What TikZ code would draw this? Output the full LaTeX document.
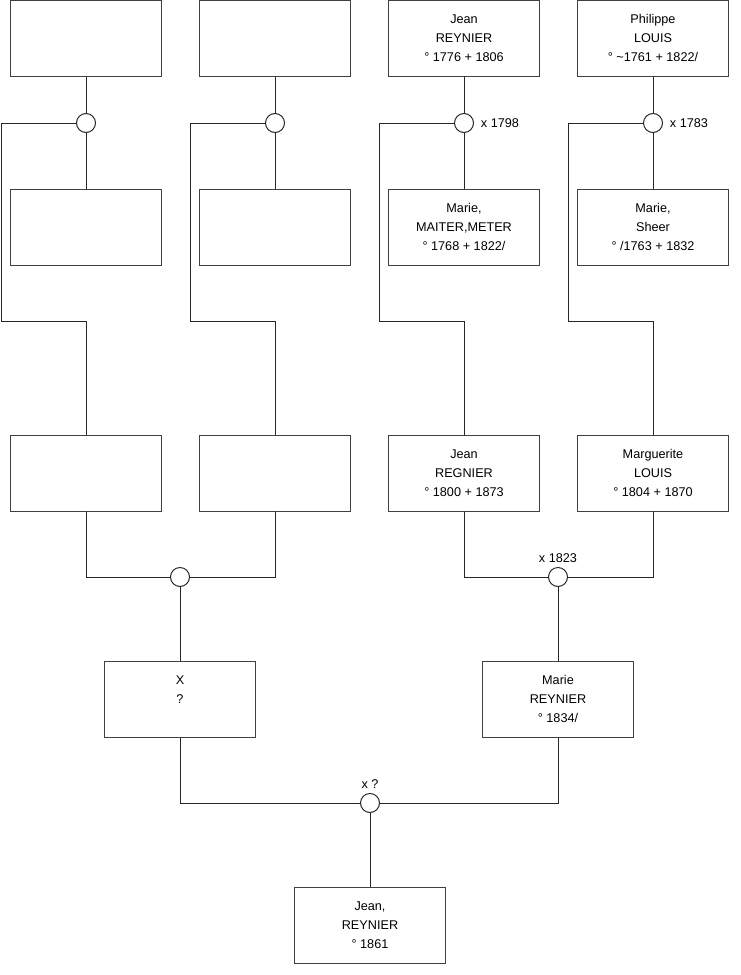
\documentclass[tikz,border=0pt]{standalone}
\usepackage{fontspec}
\setmainfont{Liberation Sans}
\usetikzlibrary{positioning}

\begin{document}
\begin{tikzpicture}[x=0.75pt,y=-0.75pt,
  person/.style={draw=black!75, line width=0.75pt, minimum width=113pt, minimum height=57pt,
    inner sep=0pt, align=center, font=\fontsize{9.5}{14.25}\selectfont},
  knot/.style={circle, draw=black!85, line width=0.75pt, minimum size=14.25pt, inner sep=0pt},
  link/.style={draw=black!85, line width=0.75pt},
  year/.style={inner sep=1pt, font=\fontsize{9.5}{11}\selectfont}]
  \useasboundingbox (0,0) rectangle (740,975);

  \node[person] (p1) at (86,38) {};
  \node[person] (p2) at (275,38) {};
  \node[person] (p3) at (464,38) {Jean\\REYNIER\\° 1776 + 1806};
  \node[person] (p4) at (653,38) {Philippe\\LOUIS\\° \textasciitilde1761 + 1822/};

  \node[knot] (c1) at (86,123) {};
  \node[knot] (c2) at (275,123) {};
  \node[knot] (c3) at (464,123) {};
  \node[knot] (c4) at (653,123) {};

  \node[person] (m1) at (86,227) {};
  \node[person] (m2) at (275,227) {};
  \node[person] (m3) at (464,227) {Marie,\\MAITER,METER\\° 1768 + 1822/};
  \node[person] (m4) at (653,227) {Marie,\\Sheer\\° /1763 + 1832};

  \coordinate (k1) at (1.5,321);
  \coordinate (k2) at (190,321);
  \coordinate (k3) at (379,321);
  \coordinate (k4) at (568,321);

  \node[person] (f1) at (86,473) {};
  \node[person] (f2) at (275,473) {};
  \node[person] (f3) at (464,473) {Jean\\REGNIER\\° 1800 + 1873};
  \node[person] (f4) at (653,473) {Marguerite\\LOUIS\\° 1804 + 1870};

  \node[knot] (j1) at (180,577) {};
  \node[knot] (j2) at (558,577) {};

  \node[person] (g1) at (180,699) {X\\?\\~};
  \node[person] (g2) at (558,699) {Marie\\REYNIER\\° 1834/};

  \node[knot] (j3) at (370,803) {};
  \node[person] (r) at (370,925) {Jean,\\REYNIER\\° 1861};

  \foreach \i in {1,...,4} {
    \draw[link] (p\i) -- (c\i) -- (m\i);
    \draw[link] (c\i.west) -| (k\i) -| (f\i.north);
  }
  \draw[link] (f1.south) |- (j1.west);
  \draw[link] (f2.south) |- (j1.east);
  \draw[link] (f3.south) |- (j2.west);
  \draw[link] (f4.south) |- (j2.east);
  \draw[link] (j1) -- (g1);
  \draw[link] (j2) -- (g2);
  \draw[link] (g1.south) |- (j3.west);
  \draw[link] (g2.south) |- (j3.east);
  \draw[link] (j3) -- (r);

  \node[year, right=4pt of c3] {x 1798};
  \node[year, right=4pt of c4] {x 1783};
  \node[year, above=2pt of j2] {x 1823};
  \node[year, above=2pt of j3] {x ?};
\end{tikzpicture}
\end{document}
